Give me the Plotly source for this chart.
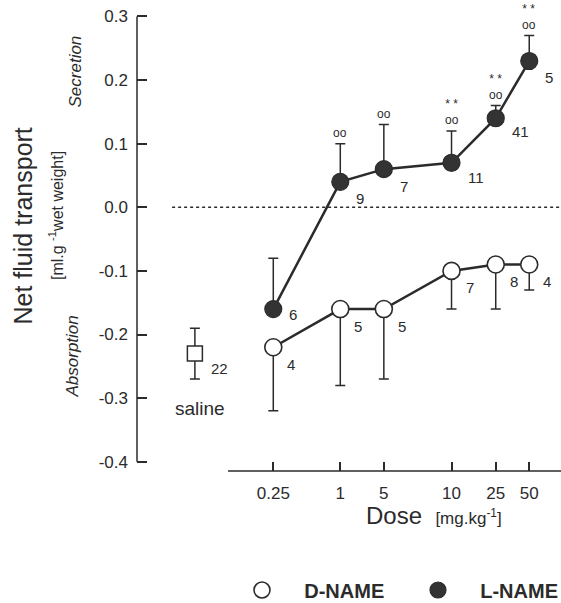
import plotly.graph_objects as go

# ---------------- data ----------------
dose_labels = ["0.25", "1", "5", "10", "25", "50"]
dose_pos = [0.0, 1.0, 1.65, 2.66, 3.32, 3.82]   # axis positions of the dose categories
saline_pos = -1.17

d_mean = [-0.22, -0.16, -0.16, -0.10, -0.09, -0.09]
d_err_down = [0.10, 0.12, 0.11, 0.06, 0.07, 0.04]
d_n = ["4", "5", "5", "7", "8", "4"]

l_mean = [-0.16, 0.04, 0.06, 0.07, 0.14, 0.23]
l_err_up = [0.08, 0.06, 0.07, 0.05, 0.02, 0.04]
l_n = ["6", "9", "7", "11", "41", "5"]
l_sig_o = ["", "oo", "oo", "oo", "oo", "oo"]
l_sig_star = ["", "", "", "* *", "* *", "* *"]

saline_mean = [-0.23]
saline_err = [0.04]
saline_n = ["22"]

y_ticks = [-0.4, -0.3, -0.2, -0.1, 0.0, 0.1, 0.2, 0.3]
y_ticktext = ["-0.4", "-0.3", "-0.2", "-0.1", "0.0", "0.1", "0.2", "0.3"]

# ---------------- style ----------------
FONT = "Liberation Sans, Arial, sans-serif"
INK = "#2b2b2b"
X_RANGE = [-2.034, 4.294]
Y_RANGE = [-0.4146, 0.3102]
ML, MT, MB = 137, 10, 132
PW, PH = 424, 461
NB = "\u00a0"


def px_x(px):
    return (px - ML) / PW


def px_y(py):
    return (MT + PH - py) / PH


fig = go.Figure()

# connecting lines
fig.add_trace(go.Scatter(x=dose_pos, y=d_mean, mode="lines",
                         line=dict(color=INK, width=2.5), showlegend=False, hoverinfo="skip"))
fig.add_trace(go.Scatter(x=dose_pos, y=l_mean, mode="lines",
                         line=dict(color=INK, width=2.5), showlegend=False, hoverinfo="skip"))

# markers with error bars
fig.add_trace(go.Scatter(
    x=dose_pos, y=d_mean, mode="markers", name=NB * 4 + "<b>D-NAME</b>", legend="legend",
    marker=dict(symbol="circle", size=17, color="white", line=dict(color=INK, width=1.6)),
    error_y=dict(type="data", symmetric=False, array=[0] * len(d_mean), arrayminus=d_err_down,
                 width=5, thickness=1.5, color=INK)))
fig.add_trace(go.Scatter(
    x=dose_pos, y=l_mean, mode="markers", name=NB * 4 + "<b>L-NAME</b>", legend="legend2",
    marker=dict(symbol="circle", size=17, color="#333333", line=dict(color=INK, width=1.2)),
    error_y=dict(type="data", symmetric=False, array=l_err_up, arrayminus=[0] * len(l_mean),
                 width=5, thickness=1.5, color=INK)))
fig.add_trace(go.Scatter(
    x=[saline_pos], y=saline_mean, mode="markers", showlegend=False,
    marker=dict(symbol="square", size=15, color="white", line=dict(color=INK, width=1.5)),
    error_y=dict(type="data", array=saline_err, width=5, thickness=1.5, color=INK)))

annotations = []
# n labels
for xp, ym, t in zip(dose_pos, d_mean, d_n):
    annotations.append(dict(x=xp, y=ym, text=t, showarrow=False, xanchor="left", yanchor="middle",
                            xshift=12, yshift=-17, font=dict(size=15, family=FONT, color=INK)))
l_dy = [-5, -17, -17, -15, -13, -16]
for xp, ym, t, dy in zip(dose_pos, l_mean, l_n, l_dy):
    annotations.append(dict(x=xp, y=ym, text=t, showarrow=False, xanchor="left", yanchor="middle",
                            xshift=14, yshift=dy, font=dict(size=15, family=FONT, color=INK)))
for ym, t in zip(saline_mean, saline_n):
    annotations.append(dict(x=saline_pos, y=ym, text=t, showarrow=False, xanchor="left",
                            yanchor="middle", xshift=14, yshift=-15,
                            font=dict(size=15, family=FONT, color=INK)))
# significance marks
for xp, ym, e, so, ss in zip(dose_pos, l_mean, l_err_up, l_sig_o, l_sig_star):
    lines = [s for s in (ss, so) if s]
    if lines:
        annotations.append(dict(x=xp, y=ym + e, text="<br>".join(lines), showarrow=False,
                                xanchor="center", yanchor="bottom", yshift=2,
                                font=dict(size=12, family=FONT, color=INK)))

annotations.append(dict(x=saline_pos, y=-0.317, text="saline", showarrow=False, xshift=5,
                        xanchor="center", yanchor="middle",
                        font=dict(size=19, family=FONT, color=INK)))


def title_ann(px, py, text, size, angle=-90):
    return dict(xref="paper", yref="paper", x=px_x(px), y=px_y(py), text=text,
                textangle=angle, showarrow=False, xanchor="center", yanchor="middle",
                font=dict(size=size, family=FONT, color=INK))


# axis titles
annotations += [
    title_ann(22.5, 226, "Net fluid transport", 25),
    title_ann(56, 216, "[ml.g <sup>-1</sup>wet weight]", 16),
    title_ann(74.5, 72, "<i>Secretion</i>", 17),
    title_ann(71.5, 357, "<i>Absorption</i>", 17),
    dict(xref="paper", yref="paper", x=px_x(364), y=px_y(515), xanchor="left", yanchor="middle",
         text="Dose  <span style='font-size:17px'>[mg.kg<sup>-1</sup>]</span>", showarrow=False,
         font=dict(size=24, family=FONT, color=INK)),
]

shapes = [
    # y axis line
    dict(type="line", xref="paper", yref="y", x0=0, x1=0, y0=-0.4, y1=0.3,
         line=dict(color=INK, width=1.5)),
    # x axis line
    dict(type="line", xref="paper", yref="paper", x0=px_x(228), x1=1, y0=0, y1=0,
         line=dict(color=INK, width=1.5)),
    # zero reference line
    dict(type="line", xref="x", yref="y", x0=-1.51, x1=X_RANGE[1], y0=0, y1=0,
         line=dict(color=INK, width=1.5, dash="dot")),
]

legend_common = dict(orientation="v", xanchor="left", yanchor="middle", y=px_y(590),
                     font=dict(size=20, family=FONT, color=INK), bgcolor="rgba(0,0,0,0)",
                     borderwidth=0)

fig.update_layout(
    width=561, height=603,
    margin=dict(l=ML, r=0, t=MT, b=MB, autoexpand=False),
    paper_bgcolor="white", plot_bgcolor="white",
    font=dict(family=FONT, color=INK),
    xaxis=dict(range=X_RANGE, tickvals=dose_pos, ticktext=dose_labels, ticks="inside",
               ticklen=9, tickwidth=1.5, tickcolor=INK, showgrid=False, zeroline=False,
               showline=False, ticklabelstandoff=10,
               tickfont=dict(size=17, family=FONT, color=INK)),
    yaxis=dict(range=Y_RANGE, tickvals=y_ticks, ticktext=y_ticktext, ticks="inside",
               ticklen=10, tickwidth=1.5, tickcolor=INK, showgrid=False, zeroline=False,
               showline=False, ticklabelstandoff=8,
               tickfont=dict(size=17, family=FONT, color=INK)),
    showlegend=True,
    legend=dict(x=px_x(242), **legend_common),
    legend2=dict(x=px_x(418), **legend_common),
    annotations=annotations,
    shapes=shapes,
)

fig.write_html("out.html")
